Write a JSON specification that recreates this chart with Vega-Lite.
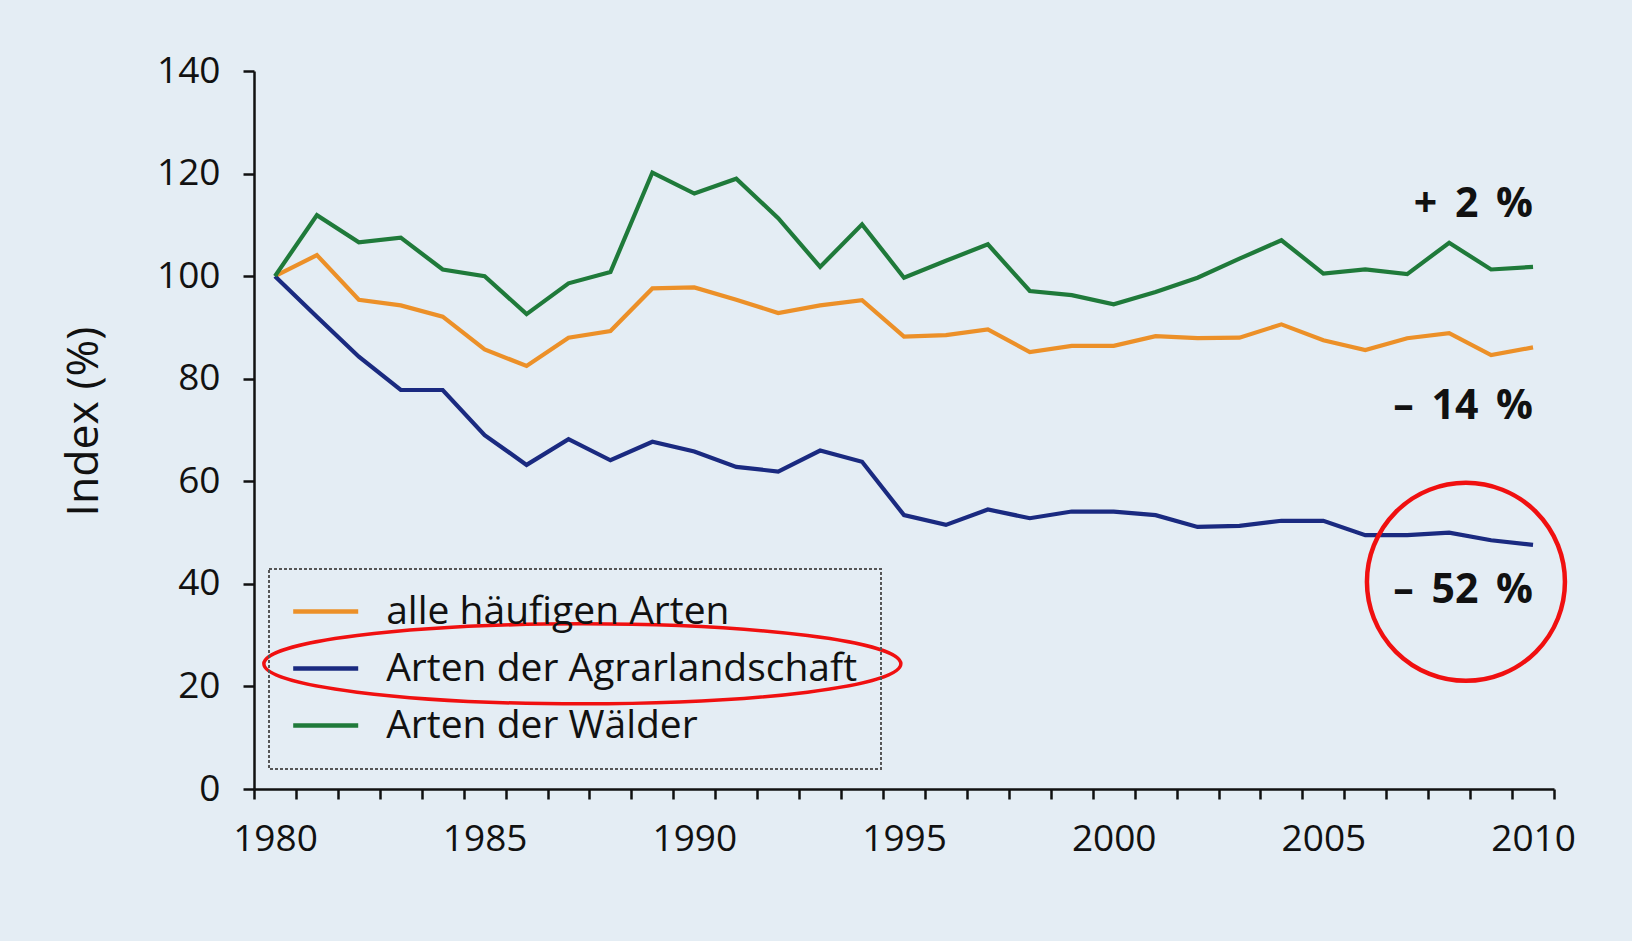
{
  "$schema": "https://vega.github.io/schema/vega-lite/v6.json",
  "width": 1300,
  "height": 718,
  "autosize": {"type": "none"},
  "padding": {"left": 254, "top": 71, "right": 78, "bottom": 152},
  "background": "#E4EDF4",
  "config": {
    "view": {"stroke": null},
    "font": "Open Sans",
    "axis": {
      "grid": false,
      "domainColor": "#111111",
      "domainWidth": 2.5,
      "tickColor": "#111111",
      "tickWidth": 2.5,
      "labelColor": "#111111",
      "labelFont": "Open Sans",
      "labelFontSize": 37,
      "titleFont": "Open Sans",
      "titleFontSize": 44.5,
      "titleFontWeight": "normal",
      "titleColor": "#111111"
    },
    "legend": {
      "strokeColor": "#555555",
      "strokeDash": [3, 2],
      "strokeWidth": 2,
      "padding": 23,
      "cornerRadius": 0
    }
  },
  "datasets": {
    "series": [
      {"year": 1980, "series": "alle häufigen Arten", "index": 100},
      {"year": 1981, "series": "alle häufigen Arten", "index": 104.1},
      {"year": 1982, "series": "alle häufigen Arten", "index": 95.4},
      {"year": 1983, "series": "alle häufigen Arten", "index": 94.3},
      {"year": 1984, "series": "alle häufigen Arten", "index": 92.1},
      {"year": 1985, "series": "alle häufigen Arten", "index": 85.7},
      {"year": 1986, "series": "alle häufigen Arten", "index": 82.5},
      {"year": 1987, "series": "alle häufigen Arten", "index": 88},
      {"year": 1988, "series": "alle häufigen Arten", "index": 89.3},
      {"year": 1989, "series": "alle häufigen Arten", "index": 97.6},
      {"year": 1990, "series": "alle häufigen Arten", "index": 97.8},
      {"year": 1991, "series": "alle häufigen Arten", "index": 95.4},
      {"year": 1992, "series": "alle häufigen Arten", "index": 92.8},
      {"year": 1993, "series": "alle häufigen Arten", "index": 94.3},
      {"year": 1994, "series": "alle häufigen Arten", "index": 95.3},
      {"year": 1995, "series": "alle häufigen Arten", "index": 88.2},
      {"year": 1996, "series": "alle häufigen Arten", "index": 88.5},
      {"year": 1997, "series": "alle häufigen Arten", "index": 89.6},
      {"year": 1998, "series": "alle häufigen Arten", "index": 85.2},
      {"year": 1999, "series": "alle häufigen Arten", "index": 86.4},
      {"year": 2000, "series": "alle häufigen Arten", "index": 86.4},
      {"year": 2001, "series": "alle häufigen Arten", "index": 88.3},
      {"year": 2002, "series": "alle häufigen Arten", "index": 87.9},
      {"year": 2003, "series": "alle häufigen Arten", "index": 88},
      {"year": 2004, "series": "alle häufigen Arten", "index": 90.6},
      {"year": 2005, "series": "alle häufigen Arten", "index": 87.5},
      {"year": 2006, "series": "alle häufigen Arten", "index": 85.6},
      {"year": 2007, "series": "alle häufigen Arten", "index": 87.9},
      {"year": 2008, "series": "alle häufigen Arten", "index": 88.9},
      {"year": 2009, "series": "alle häufigen Arten", "index": 84.6},
      {"year": 2010, "series": "alle häufigen Arten", "index": 86.1},
      {"year": 1980, "series": "Arten der Agrarlandschaft", "index": 100},
      {"year": 1981, "series": "Arten der Agrarlandschaft", "index": 92.1},
      {"year": 1982, "series": "Arten der Agrarlandschaft", "index": 84.3},
      {"year": 1983, "series": "Arten der Agrarlandschaft", "index": 77.8},
      {"year": 1984, "series": "Arten der Agrarlandschaft", "index": 77.8},
      {"year": 1985, "series": "Arten der Agrarlandschaft", "index": 69},
      {"year": 1986, "series": "Arten der Agrarlandschaft", "index": 63.2},
      {"year": 1987, "series": "Arten der Agrarlandschaft", "index": 68.2},
      {"year": 1988, "series": "Arten der Agrarlandschaft", "index": 64.1},
      {"year": 1989, "series": "Arten der Agrarlandschaft", "index": 67.7},
      {"year": 1990, "series": "Arten der Agrarlandschaft", "index": 65.8},
      {"year": 1991, "series": "Arten der Agrarlandschaft", "index": 62.8},
      {"year": 1992, "series": "Arten der Agrarlandschaft", "index": 61.9},
      {"year": 1993, "series": "Arten der Agrarlandschaft", "index": 66},
      {"year": 1994, "series": "Arten der Agrarlandschaft", "index": 63.8},
      {"year": 1995, "series": "Arten der Agrarlandschaft", "index": 53.4},
      {"year": 1996, "series": "Arten der Agrarlandschaft", "index": 51.5},
      {"year": 1997, "series": "Arten der Agrarlandschaft", "index": 54.5},
      {"year": 1998, "series": "Arten der Agrarlandschaft", "index": 52.8},
      {"year": 1999, "series": "Arten der Agrarlandschaft", "index": 54.1},
      {"year": 2000, "series": "Arten der Agrarlandschaft", "index": 54.1},
      {"year": 2001, "series": "Arten der Agrarlandschaft", "index": 53.4},
      {"year": 2002, "series": "Arten der Agrarlandschaft", "index": 51.1},
      {"year": 2003, "series": "Arten der Agrarlandschaft", "index": 51.3},
      {"year": 2004, "series": "Arten der Agrarlandschaft", "index": 52.3},
      {"year": 2005, "series": "Arten der Agrarlandschaft", "index": 52.3},
      {"year": 2006, "series": "Arten der Agrarlandschaft", "index": 49.5},
      {"year": 2007, "series": "Arten der Agrarlandschaft", "index": 49.5},
      {"year": 2008, "series": "Arten der Agrarlandschaft", "index": 50},
      {"year": 2009, "series": "Arten der Agrarlandschaft", "index": 48.5},
      {"year": 2010, "series": "Arten der Agrarlandschaft", "index": 47.6},
      {"year": 1980, "series": "Arten der Wälder", "index": 100},
      {"year": 1981, "series": "Arten der Wälder", "index": 111.9},
      {"year": 1982, "series": "Arten der Wälder", "index": 106.6},
      {"year": 1983, "series": "Arten der Wälder", "index": 107.5},
      {"year": 1984, "series": "Arten der Wälder", "index": 101.3},
      {"year": 1985, "series": "Arten der Wälder", "index": 100},
      {"year": 1986, "series": "Arten der Wälder", "index": 92.6},
      {"year": 1987, "series": "Arten der Wälder", "index": 98.6},
      {"year": 1988, "series": "Arten der Wälder", "index": 100.8},
      {"year": 1989, "series": "Arten der Wälder", "index": 120.2},
      {"year": 1990, "series": "Arten der Wälder", "index": 116.1},
      {"year": 1991, "series": "Arten der Wälder", "index": 119},
      {"year": 1992, "series": "Arten der Wälder", "index": 111.3},
      {"year": 1993, "series": "Arten der Wälder", "index": 101.8},
      {"year": 1994, "series": "Arten der Wälder", "index": 110.1},
      {"year": 1995, "series": "Arten der Wälder", "index": 99.7},
      {"year": 1996, "series": "Arten der Wälder", "index": 103},
      {"year": 1997, "series": "Arten der Wälder", "index": 106.2},
      {"year": 1998, "series": "Arten der Wälder", "index": 97.1},
      {"year": 1999, "series": "Arten der Wälder", "index": 96.3},
      {"year": 2000, "series": "Arten der Wälder", "index": 94.5},
      {"year": 2001, "series": "Arten der Wälder", "index": 96.9},
      {"year": 2002, "series": "Arten der Wälder", "index": 99.7},
      {"year": 2003, "series": "Arten der Wälder", "index": 103.4},
      {"year": 2004, "series": "Arten der Wälder", "index": 107},
      {"year": 2005, "series": "Arten der Wälder", "index": 100.5},
      {"year": 2006, "series": "Arten der Wälder", "index": 101.3},
      {"year": 2007, "series": "Arten der Wälder", "index": 100.4},
      {"year": 2008, "series": "Arten der Wälder", "index": 106.5},
      {"year": 2009, "series": "Arten der Wälder", "index": 101.3},
      {"year": 2010, "series": "Arten der Wälder", "index": 101.8}
    ],
    "changes": [
      {"year": 2010, "index": 113.8, "label": "+\u2004\u200a2\u2004\u200a%"},
      {"year": 2010, "index": 74.5, "label": "–\u2004\u200a14\u2004\u200a%"},
      {"year": 2010, "index": 38.6, "label": "–\u2004\u200a52\u2004\u200a%"}
    ],
    "circle": [{"year": 2008.4, "index": 40.4}],
    "ellipse": [{"year": 1987.33, "index": 24.4}]
  },
  "layer": [
    {
      "data": {"name": "series"},
      "mark": {"type": "line", "strokeWidth": 4.2, "strokeJoin": "miter"},
      "encoding": {
        "x": {
          "field": "year",
          "type": "quantitative",
          "scale": {"domain": [1979.5, 2010.5], "nice": false, "zero": false},
          "axis": {
            "title": null,
            "values": [1979.5, 1980.5, 1981.5, 1982.5, 1983.5, 1984.5, 1985.5, 1986.5, 1987.5, 1988.5, 1989.5, 1990.5, 1991.5, 1992.5, 1993.5, 1994.5, 1995.5, 1996.5, 1997.5, 1998.5, 1999.5, 2000.5, 2001.5, 2002.5, 2003.5, 2004.5, 2005.5, 2006.5, 2007.5, 2008.5, 2009.5, 2010.5],
            "labelExpr": "(datum.value - 1979.5) % 5 == 0 ? format(datum.value + 0.5, 'd') : ''",
            "labelOffset": 21,
            "labelOverlap": false,
            "labelFlush": false,
            "labelBound": false,
            "tickSize": 10,
            "labelPadding": 22
          }
        },
        "y": {
          "field": "index",
          "type": "quantitative",
          "scale": {"domain": [0, 140], "nice": false},
          "axis": {
            "title": "Index (%)",
            "values": [0, 20, 40, 60, 80, 100, 120, 140],
            "tickSize": 11,
            "labelPadding": 23,
            "titlePadding": 50,
            "titleY": 350
          }
        },
        "color": {
          "field": "series",
          "type": "nominal",
          "scale": {
            "domain": ["alle häufigen Arten", "Arten der Agrarlandschaft", "Arten der Wälder"],
            "range": ["#EC9028", "#1A2A80", "#1F7A3A"]
          },
          "legend": {
            "title": null,
            "orient": "none",
            "legendX": 15,
            "legendY": 498,
            "symbolType": "M-2.5,0L2.5,0",
            "symbolSize": 676,
            "symbolStrokeWidth": 4.5,
            "symbolOffset": 14.2,
            "labelFont": "Open Sans",
            "labelFontSize": 39,
            "labelColor": "#111111",
            "labelOffset": 41,
            "labelLimit": 0,
            "rowPadding": 17
          }
        }
      }
    },
    {
      "data": {"name": "changes"},
      "mark": {"type": "text", "align": "right", "baseline": "middle", "fontSize": 41, "fontWeight": "bold", "font": "Open Sans", "color": "#111111"},
      "encoding": {
        "x": {"field": "year", "type": "quantitative"},
        "y": {"field": "index", "type": "quantitative"},
        "text": {"field": "label"}
      }
    },
    {
      "data": {"name": "circle"},
      "mark": {"type": "point", "shape": "circle", "filled": false, "stroke": "#F01010", "strokeWidth": 4.5, "size": 39204, "opacity": 1},
      "encoding": {
        "x": {"field": "year", "type": "quantitative"},
        "y": {"field": "index", "type": "quantitative"}
      }
    },
    {
      "data": {"name": "ellipse"},
      "mark": {
        "type": "point",
        "shape": "M-1,0C-1,-0.0694,-0.5523,-0.1256,0,-0.1256C0.5523,-0.1256,1,-0.0694,1,0C1,0.0694,0.5523,0.1256,0,0.1256C-0.5523,0.1256,-1,0.0694,-1,0Z",
        "filled": false,
        "stroke": "#F01010",
        "strokeWidth": 3.5,
        "size": 405769,
        "opacity": 1
      },
      "encoding": {
        "x": {"field": "year", "type": "quantitative"},
        "y": {"field": "index", "type": "quantitative"}
      }
    }
  ]
}
